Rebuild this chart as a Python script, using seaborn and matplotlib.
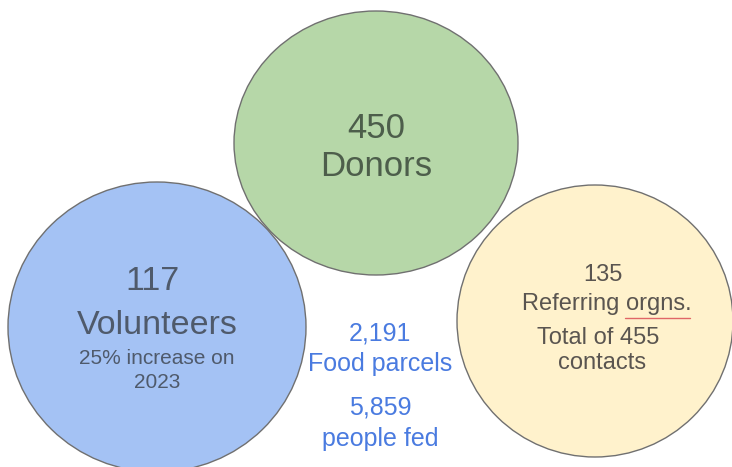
import seaborn as sns
import matplotlib.pyplot as plt
from matplotlib.patches import Ellipse

sns.set_theme(style="white")
plt.rcParams["font.family"] = ["Liberation Sans", "DejaVu Sans"]

# figures shown in the three bubbles
counts = ["450", "117", "135"]
names = ["Donors", "Volunteers", "Referring orgns."]
notes = ["", "25% increase on\n2023", "Total of 455\ncontacts"]

# figures in the middle
mid_values = ["2,191", "5,859"]
mid_labels = ["Food parcels", "people fed"]

# layout (pixels)
centres = [(376, 143), (157, 327), (595, 321)]
radii = [(142, 132), (149, 145), (138, 136)]
fills = ["#b6d7a8", "#a4c2f4", "#fff2cc"]
text_cols = ["#4d5e4b", "#4f5a6b", "#5a5550"]
mid_col = "#4a7be0"

fig = plt.figure(figsize=(7.32, 4.67), dpi=100)
ax = fig.add_axes([0, 0, 1, 1])
ax.set_xlim(0, 732)
ax.set_ylim(467, 0)
ax.axis("off")

for (cx, cy), (rx, ry), fc in zip(centres, radii, fills):
    ax.add_patch(Ellipse((cx, cy), 2 * rx, 2 * ry, facecolor=fc,
                         edgecolor="#707070", linewidth=1.0))

# donors
ax.text(376, 128, counts[0], ha="center", va="center", fontsize=25, color=text_cols[0])
ax.text(376, 166, names[0], ha="center", va="center", fontsize=25, color=text_cols[0])

# volunteers
ax.text(153, 282, counts[1], ha="center", va="center", fontsize=24.5, color=text_cols[1])
ax.text(157, 326, names[1], ha="center", va="center", fontsize=24.5, color=text_cols[1])
ax.text(157, 359, notes[1].split("\n")[0], ha="center", va="center", fontsize=15,
        color=text_cols[1])
ax.text(157, 382, notes[1].split("\n")[1], ha="center", va="center", fontsize=15,
        color=text_cols[1])

# referring organisations
ax.text(603, 275, counts[2], ha="center", va="center", fontsize=17, color=text_cols[2])
ax.text(607, 304, names[2], ha="center", va="center", fontsize=17, color=text_cols[2])
ax.plot([625, 690], [318, 318], color="#e06666", linewidth=1.0)
ax.text(598, 338, notes[2].split("\n")[0], ha="center", va="center", fontsize=17,
        color=text_cols[2])
ax.text(602, 363, notes[2].split("\n")[1], ha="center", va="center", fontsize=17,
        color=text_cols[2])

# middle figures
ax.text(380, 334, mid_values[0], ha="center", va="center", fontsize=18, color=mid_col)
ax.text(380, 364, mid_labels[0], ha="center", va="center", fontsize=18, color=mid_col)
ax.text(380, 408, mid_values[1], ha="center", va="center", fontsize=18, color=mid_col)
ax.text(380, 439, mid_labels[1], ha="center", va="center", fontsize=18, color=mid_col)

fig.savefig("out.png", dpi=100)
